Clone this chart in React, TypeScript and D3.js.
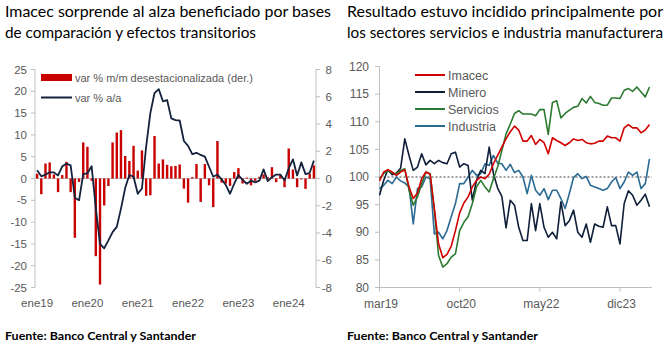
import React from "react";
import * as d3 from "d3";

// ---------- Left chart data ----------
const leftTickLabels = ["ene19", "ene20", "ene21", "ene22", "ene23", "ene24"];
const leftTickIdx = [0, 12, 24, 36, 48, 60];
// var % m/m desestacionalizada (der.) — jan 2019 .. jul 2024
const mmValues = [
  0.35, -1.15, 1.1, 1.18, 0.3, -1.0, 0.25, 1.22, -1.0, -4.35,
  -0.25, 2.65, 2.33, -0.16, -5.7, -7.78, -1.98, -0.55, 2.65, 3.37,
  3.55, 1.65, 1.28, 2.4, 0.58, 2.06, -1.27, -1.23, 3.12, 1.1,
  1.4, 1.0, 0.9, 0.92, 1.03, -0.74, -1.77, 0.1, 1.06, -1.72,
  1.06, -0.5, -2.1, 2.75, -0.3, -0.37, -0.54, 0.47, 0.76, -0.37,
  0.07, -0.5, -0.17, 0.12, 0.3, 0.1, 0.83, -0.27, 0.25, -0.64,
  2.2, 0.66, -0.64, -0.07, -0.76, 0.34, 0.96,
];
// var % a/a
const yoyValues = [
  1.9, 0.5, 0.9, 1.4, 1.4, 0.7, 2.8, 3.4, 3.0, -4.4,
  -5.0, 1.0, 1.2, 2.8, -6.8, -15.0, -16.0, -14.2, -12.3, -11.1,
  -6.9, -2.2, 0.8, 0.4, -3.5, -2.3, 7.3, 15.0, 19.6, 20.5,
  17.7, 18.0, 13.8, 13.4, 13.3, 8.6, 7.5, 5.6, 5.9, 5.4,
  5.0, 2.7, 0.4, 0.9, -0.2, -1.5, -3.5, -1.2, 0.8, -0.3,
  -1.2, -0.5, -0.9, -0.5, 2.1, -0.6, 0.3, 0.9, 0.9, -0.4,
  2.3, 4.4, 0.7, 3.7, 1.0, 1.3, 4.1,
];
const leftTicks = [25, 20, 15, 10, 5, 0, -5, -10, -15, -20, -25];
const rightTicks = [8, 6, 4, 2, 0, -2, -4, -6, -8];

// ---------- Right chart data ----------
const rightTickLabels = ["mar19", "oct20", "may22", "dic23"];
const rightTickIdx = [0, 19, 38, 57];
const imacec = [
  99.3, 100.9, 101.3, 100.9, 100.3, 100.9, 101.3, 98.2, 96.1, 97.1,
  99.7, 100.9, 100.5, 94.3, 87.9, 85.4, 86.0, 87.5, 90.3, 93.5,
  95.3, 96.4, 98.2, 99.4, 100.0, 99.7, 100.5, 102.4, 103.9, 105.4,
  106.9, 108.2, 109.2, 108.5, 106.5, 106.5, 107.5, 105.9, 106.8, 106.2,
  104.2, 107.1, 106.6, 106.2, 105.7, 106.2, 106.9, 106.6, 106.8, 106.2,
  106.0, 106.1, 106.5, 106.5, 107.4, 107.1, 107.1, 106.5, 108.9, 109.5,
  108.9, 108.9, 108.0, 108.5, 109.5,
];
const minero = [
  96.7, 99.4, 101.3, 100.4, 100.7, 101.6, 106.9, 103.9, 101.2, 101.8,
  104.2, 102.2, 103.0, 102.4, 103.0, 102.6, 102.4, 104.2, 104.5, 101.8,
  102.4, 102.1, 95.8, 99.4, 101.2, 100.6, 105.4, 100.6, 98.0, 96.5,
  90.8, 95.8, 94.9, 90.9, 88.5, 88.5, 95.2, 90.3, 95.2, 90.9,
  89.1, 90.0, 88.8, 95.5, 91.2, 92.1, 94.0, 90.0, 89.1, 91.5,
  88.2, 91.5, 91.1, 90.9, 94.6, 91.2, 91.2, 87.9, 95.2, 97.5,
  96.7, 94.9, 95.8, 96.9, 94.6,
];
const servicios = [
  99.7, 100.6, 101.1, 100.7, 100.6, 101.2, 101.5, 97.6, 94.9, 96.4,
  98.8, 100.9, 100.6, 94.0, 85.8, 83.7, 84.3, 85.5, 86.1, 90.3,
  91.8, 92.8, 95.2, 98.2, 99.4, 98.2, 97.3, 99.7, 101.8, 104.8,
  107.8, 109.6, 111.5, 112.0, 111.4, 111.4, 111.4, 111.1, 112.2, 112.2,
  107.7, 113.5, 113.8, 110.7, 111.5, 112.1, 112.6, 112.8, 114.2, 113.4,
  114.6, 113.5, 113.3, 113.0, 113.0, 114.3, 114.3, 114.2, 115.7, 116.0,
  115.5, 116.3, 115.4, 114.5, 116.3,
];
const industria = [
  97.9, 98.5, 99.4, 98.8, 100.0, 99.3, 98.9, 98.2, 91.5, 97.9,
  98.2, 100.0, 99.7, 89.7, 90.0, 88.8, 90.3, 92.8, 95.2, 98.8,
  98.8, 100.0, 101.2, 100.3, 100.6, 102.4, 102.1, 103.9, 102.5, 102.4,
  101.2, 102.3, 100.8, 101.2, 100.0, 97.0, 100.3, 97.6, 96.7, 97.9,
  95.9, 97.6, 97.6, 96.1, 94.3, 97.0, 99.9, 100.6, 99.7, 100.1,
  98.5, 98.2, 97.9, 97.6, 97.9, 99.1, 99.9, 97.9, 99.1, 100.9,
  100.3, 100.9, 97.9, 98.8, 103.3,
];
const seriesNames = ["Imacec", "Minero", "Servicios", "Industria"];
const seriesColors = ["#d00000", "#0f1f3a", "#2b7a30", "#2a6a93"];
const rightYTicks = [120, 115, 110, 105, 100, 95, 90, 85, 80];

const TICK = "#595959";
const AXIS = "#bfbfbf";
const FONT = "'Liberation Sans', Arial, sans-serif";
const TFONT = "Lato, 'Open Sans', sans-serif";

export default function App() {
  // Left chart scales
  const xL = d3.scaleBand<number>().domain(d3.range(mmValues.length)).range([35, 316]);
  const yL = d3.scaleLinear().domain([-25, 25]).range([287.5, 69.5]);
  const yR = d3.scaleLinear().domain([-8, 8]).range([287.5, 69.5]);
  const cx = (i: number) => (xL(i) as number) + xL.bandwidth() / 2;
  const yoyLine = d3
    .line<number>()
    .x((_, i) => cx(i))
    .y((d) => yL(d));

  // Right chart scales
  const xP = d3.scaleLinear().domain([0, imacec.length - 1]).range([379.5, 649.5]);
  const yP = d3.scaleLinear().domain([80, 120]).range([287.5, 66.5]);
  const pLine = d3
    .line<number>()
    .x((_, i) => xP(i))
    .y((d) => yP(d));
  const allSeries = [imacec, minero, servicios, industria];
  const drawOrder = [3, 1, 2, 0];

  const barW = 2.4;

  return (
    <svg width={668} height={351} style={{ position: "absolute", left: 0, top: 0, background: "#fff" }}>
      {/* Titles */}
      <text x={5} y={17} fontFamily={TFONT} fontSize={15} fill="#000" textLength={326} lengthAdjust="spacingAndGlyphs">
        Imacec sorprende al alza beneficiado por bases
      </text>
      <text x={5} y={38} fontFamily={TFONT} fontSize={15} fill="#000" textLength={251} lengthAdjust="spacingAndGlyphs">
        de comparación y efectos transitorios
      </text>
      <text x={347} y={17} fontFamily={TFONT} fontSize={15} fill="#000" textLength={316} lengthAdjust="spacingAndGlyphs">
        Resultado estuvo incidido principalmente por
      </text>
      <text x={347} y={38} fontFamily={TFONT} fontSize={15} fill="#000" textLength={316} lengthAdjust="spacingAndGlyphs">
        los sectores servicios e industria manufacturera
      </text>

      {/* ---------- LEFT CHART ---------- */}
      {/* zero line */}
      <line x1={35} x2={316} y1={yL(0)} y2={yL(0)} stroke={AXIS} strokeWidth={1} />
      {/* left axis */}
      <line x1={35} x2={35} y1={yL(25)} y2={yL(-25)} stroke={AXIS} strokeWidth={1} />
      {leftTicks.map((t) => (
        <g key={"lt" + t}>
          <line x1={31} x2={35} y1={yL(t)} y2={yL(t)} stroke={AXIS} />
          <text x={27} y={yL(t)} dy="0.35em" textAnchor="end" fontFamily={FONT} fontSize={11.5} fill={TICK}>
            {t}
          </text>
        </g>
      ))}
      {/* right axis */}
      <line x1={316} x2={316} y1={yR(8)} y2={yR(-8)} stroke={AXIS} strokeWidth={1} />
      {rightTicks.map((t) => (
        <g key={"rt" + t}>
          <line x1={316} x2={320} y1={yR(t)} y2={yR(t)} stroke={AXIS} />
          <text x={332} y={yR(t)} dy="0.35em" textAnchor="end" fontFamily={FONT} fontSize={11.5} fill={TICK}>
            {t}
          </text>
        </g>
      ))}
      {/* bars */}
      {mmValues.map((v, i) => (
        <rect
          key={"b" + i}
          x={cx(i) - barW / 2}
          y={yR(Math.max(0, v))}
          width={barW}
          height={Math.abs(yR(v) - yR(0))}
          fill="#c80000"
        />
      ))}
      {/* yoy line */}
      <path d={yoyLine(yoyValues) || ""} fill="none" stroke="#14223d" strokeWidth={1.8} strokeLinejoin="round" />
      {/* x labels */}
      {leftTickIdx.map((idx, k) => (
        <text key={"xl" + k} x={cx(idx)} y={307} textAnchor="middle" fontFamily={FONT} fontSize={11.5} fill={TICK}>
          {leftTickLabels[k]}
        </text>
      ))}
      {/* legend */}
      <rect x={41} y={74} width={31} height={7} fill="#c80000" />
      <text x={75} y={82} fontFamily={FONT} fontSize={11} fill={TICK}>
        var % m/m desestacionalizada (der.)
      </text>
      <line x1={41} x2={72} y1={97.5} y2={97.5} stroke="#14223d" strokeWidth={2} />
      <text x={75} y={101.5} fontFamily={FONT} fontSize={11} fill={TICK}>
        var % a/a
      </text>

      {/* ---------- RIGHT CHART ---------- */}
      <line x1={379.5} x2={379.5} y1={yP(120)} y2={yP(80)} stroke={AXIS} />
      {rightYTicks.map((t) => (
        <g key={"py" + t}>
          <line x1={375} x2={379.5} y1={yP(t)} y2={yP(t)} stroke={AXIS} />
          <text x={369} y={yP(t)} dy="0.35em" textAnchor="end" fontFamily={FONT} fontSize={12} fill={TICK}>
            {t}
          </text>
        </g>
      ))}
      <line x1={379.5} x2={652} y1={yP(80)} y2={yP(80)} stroke={AXIS} />
      {rightTickIdx.map((idx, k) => (
        <g key={"px" + k}>
          <line x1={xP(idx)} x2={xP(idx)} y1={yP(80)} y2={yP(80) + 4} stroke={AXIS} />
          <text x={xP(idx) + 1.5} y={308} textAnchor="middle" fontFamily={FONT} fontSize={12} fill={TICK}>
            {rightTickLabels[k]}
          </text>
        </g>
      ))}
      {/* 100 reference dotted line */}
      <line x1={379.5} x2={652} y1={yP(100)} y2={yP(100)} stroke="#7f7f7f" strokeWidth={1.6} strokeDasharray="2,2" />
      {drawOrder.map((s) => (
        <path
          key={"s" + s}
          d={pLine(allSeries[s]) || ""}
          fill="none"
          stroke={seriesColors[s]}
          strokeWidth={1.6}
          strokeLinejoin="round"
        />
      ))}
      {/* legend */}
      {seriesNames.map((n, k) => (
        <g key={"lg" + k}>
          <line x1={415} x2={445} y1={75 + 17 * k} y2={75 + 17 * k} stroke={seriesColors[k]} strokeWidth={2} />
          <text x={448} y={79.5 + 17 * k} fontFamily={FONT} fontSize={12.5} fill={TICK}>
            {n}
          </text>
        </g>
      ))}

      {/* Footers */}
      <text x={5} y={340} fontFamily={TFONT} fontSize={12} fontWeight="bold" fill="#000" textLength={191} lengthAdjust="spacingAndGlyphs">
        Fuente: Banco Central y Santander
      </text>
      <text x={347} y={340} fontFamily={TFONT} fontSize={12} fontWeight="bold" fill="#000" textLength={191} lengthAdjust="spacingAndGlyphs">
        Fuente: Banco Central y Santander
      </text>
    </svg>
  );
}
